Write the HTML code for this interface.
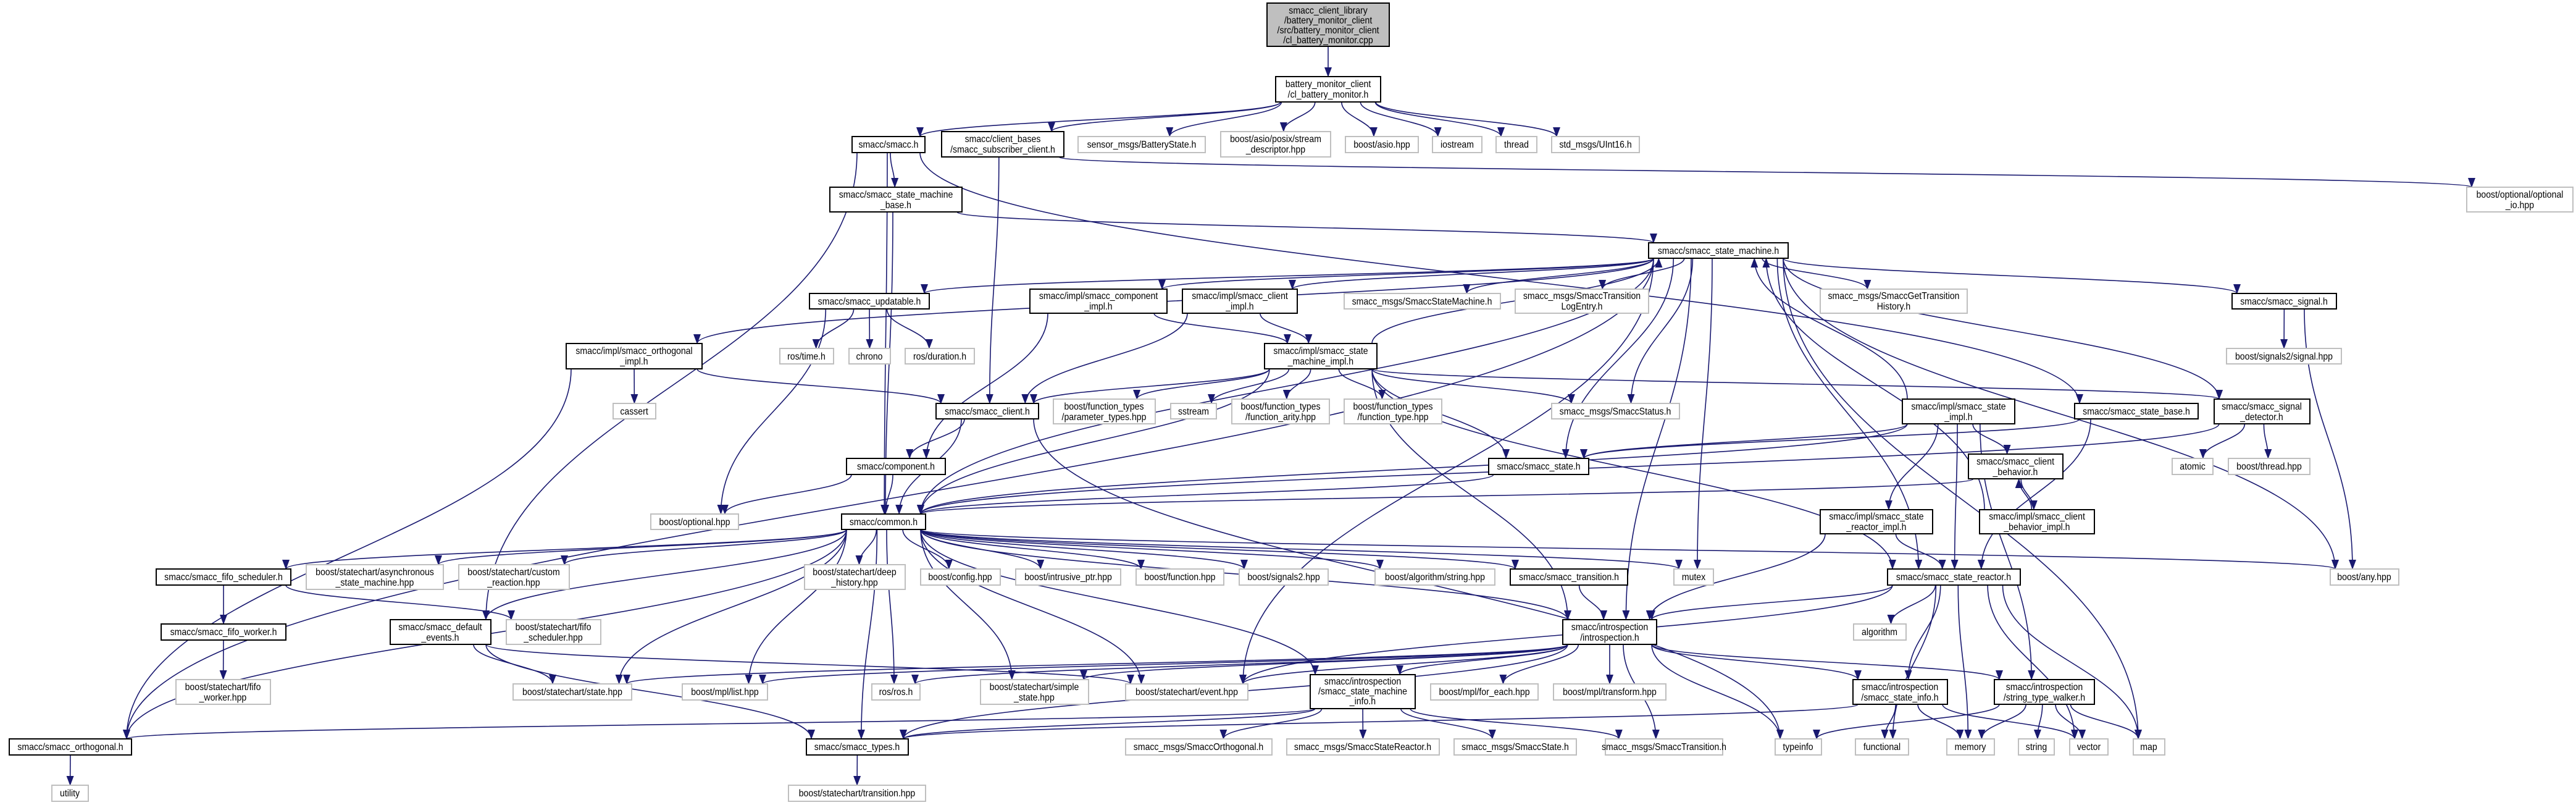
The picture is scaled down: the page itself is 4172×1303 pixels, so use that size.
<!DOCTYPE html>
<html><head><meta charset="utf-8">
<style>
html,body{margin:0;padding:0;background:#fff;}
svg{display:block;}
text{font-family:"Liberation Sans",sans-serif;font-size:16px;fill:#000;text-anchor:middle;transform-box:fill-box;transform-origin:center;transform:scaleX(0.88);}
rect.b{fill:#fff;stroke:#000;stroke-width:2;}
rect.g{fill:#fff;stroke:#bfbfbf;stroke-width:2;}
rect.t{fill:#bfbfbf;stroke:#000;stroke-width:2;}
#E path{fill:none;stroke:#191970;stroke-width:1.6;}
</style></head>
<body>
<svg id="S" width="4172" height="1303" viewBox="0 0 4172 1303" xmlns="http://www.w3.org/2000/svg">
<defs><marker id="ah" markerUnits="userSpaceOnUse" markerWidth="16" markerHeight="12" refX="15" refY="6" orient="auto"><path d="M0,0 L16,6 L0,12 z" fill="#191970"/></marker></defs>
<g id="E"></g>
<g id="N">
<rect class="t" x="2052" y="5" width="198" height="70"/><text x="2151" y="22">smacc_client_library</text><text x="2151" y="38">/battery_monitor_client</text><text x="2151" y="54">/src/battery_monitor_client</text><text x="2151" y="70">/cl_battery_monitor.cpp</text>
<rect class="b" x="2066" y="124" width="170" height="41"/><text x="2151" y="141">battery_monitor_client</text><text x="2151" y="158">/cl_battery_monitor.h</text>
<rect class="b" x="1380" y="221" width="118" height="26"/><text x="1439" y="239">smacc/smacc.h</text>
<rect class="b" x="1525" y="213" width="198" height="41"/><text x="1624" y="230">smacc/client_bases</text><text x="1624" y="247">/smacc_subscriber_client.h</text>
<rect class="g" x="1746" y="221" width="206" height="26"/><text x="1849" y="239">sensor_msgs/BatteryState.h</text>
<rect class="g" x="1977" y="213" width="178" height="41"/><text x="2066" y="230">boost/asio/posix/stream</text><text x="2066" y="247">_descriptor.hpp</text>
<rect class="g" x="2179" y="221" width="118" height="26"/><text x="2238" y="239">boost/asio.hpp</text>
<rect class="g" x="2320" y="221" width="80" height="26"/><text x="2360" y="239">iostream</text>
<rect class="g" x="2423" y="221" width="66" height="26"/><text x="2456" y="239">thread</text>
<rect class="g" x="2513" y="221" width="142" height="26"/><text x="2584" y="239">std_msgs/UInt16.h</text>
<rect class="g" x="3995" y="303" width="172" height="40"/><text x="4081" y="320">boost/optional/optional</text><text x="4081" y="337">_io.hpp</text>
<rect class="b" x="1344" y="303" width="214" height="40"/><text x="1451" y="320">smacc/smacc_state_machine</text><text x="1451" y="337">_base.h</text>
<rect class="b" x="2670" y="393" width="226" height="25"/><text x="2783" y="411">smacc/smacc_state_machine.h</text>
<rect class="b" x="1311" y="475" width="194" height="25"/><text x="1408" y="493">smacc/smacc_updatable.h</text>
<rect class="b" x="1668" y="468" width="222" height="39"/><text x="1779" y="484">smacc/impl/smacc_component</text><text x="1779" y="501">_impl.h</text>
<rect class="b" x="1915" y="468" width="186" height="39"/><text x="2008" y="484">smacc/impl/smacc_client</text><text x="2008" y="501">_impl.h</text>
<rect class="g" x="2177" y="475" width="253" height="25"/><text x="2303" y="493">smacc_msgs/SmaccStateMachine.h</text>
<rect class="g" x="2454" y="468" width="216" height="39"/><text x="2562" y="484">smacc_msgs/SmaccTransition</text><text x="2562" y="501">LogEntry.h</text>
<rect class="g" x="2948" y="468" width="238" height="39"/><text x="3067" y="484">smacc_msgs/SmaccGetTransition</text><text x="3067" y="501">History.h</text>
<rect class="b" x="3615" y="475" width="169" height="25"/><text x="3699" y="493">smacc/smacc_signal.h</text>
<rect class="g" x="3606" y="564" width="186" height="25"/><text x="3699" y="582">boost/signals2/signal.hpp</text>
<rect class="b" x="917" y="556" width="220" height="41"/><text x="1027" y="573">smacc/impl/smacc_orthogonal</text><text x="1027" y="590">_impl.h</text>
<rect class="g" x="1263" y="564" width="87" height="25"/><text x="1306" y="582">ros/time.h</text>
<rect class="g" x="1375" y="564" width="67" height="25"/><text x="1408" y="582">chrono</text>
<rect class="g" x="1466" y="564" width="112" height="25"/><text x="1522" y="582">ros/duration.h</text>
<rect class="b" x="2048" y="556" width="182" height="41"/><text x="2139" y="573">smacc/impl/smacc_state</text><text x="2139" y="590">_machine_impl.h</text>
<rect class="g" x="993" y="653" width="69" height="25"/><text x="1027" y="671">cassert</text>
<rect class="b" x="1516" y="653" width="166" height="25"/><text x="1599" y="671">smacc/smacc_client.h</text>
<rect class="g" x="1706" y="646" width="165" height="40"/><text x="1788" y="663">boost/function_types</text><text x="1788" y="680">/parameter_types.hpp</text>
<rect class="g" x="1896" y="653" width="74" height="25"/><text x="1933" y="671">sstream</text>
<rect class="g" x="1995" y="646" width="158" height="40"/><text x="2074" y="663">boost/function_types</text><text x="2074" y="680">/function_arity.hpp</text>
<rect class="g" x="2177" y="646" width="158" height="40"/><text x="2256" y="663">boost/function_types</text><text x="2256" y="680">/function_type.hpp</text>
<rect class="g" x="2513" y="653" width="207" height="25"/><text x="2616" y="671">smacc_msgs/SmaccStatus.h</text>
<rect class="b" x="3081" y="646" width="182" height="40"/><text x="3172" y="663">smacc/impl/smacc_state</text><text x="3172" y="680">_impl.h</text>
<rect class="b" x="3360" y="653" width="200" height="25"/><text x="3460" y="671">smacc/smacc_state_base.h</text>
<rect class="b" x="3586" y="646" width="155" height="40"/><text x="3663" y="663">smacc/smacc_signal</text><text x="3663" y="680">_detector.h</text>
<rect class="b" x="1371" y="742" width="160" height="26"/><text x="1451" y="760">smacc/component.h</text>
<rect class="g" x="1054" y="832" width="142" height="25"/><text x="1125" y="850">boost/optional.hpp</text>
<rect class="b" x="2411" y="742" width="162" height="26"/><text x="2492" y="760">smacc/smacc_state.h</text>
<rect class="g" x="3518" y="742" width="66" height="26"/><text x="3551" y="760">atomic</text>
<rect class="g" x="3609" y="742" width="132" height="26"/><text x="3675" y="760">boost/thread.hpp</text>
<rect class="b" x="3188" y="735" width="153" height="40"/><text x="3264" y="752">smacc/smacc_client</text><text x="3264" y="769">_behavior.h</text>
<rect class="b" x="2948" y="825" width="182" height="39"/><text x="3039" y="841">smacc/impl/smacc_state</text><text x="3039" y="858">_reactor_impl.h</text>
<rect class="b" x="3206" y="825" width="186" height="39"/><text x="3299" y="841">smacc/impl/smacc_client</text><text x="3299" y="858">_behavior_impl.h</text>
<rect class="b" x="1363" y="832" width="136" height="25"/><text x="1431" y="850">smacc/common.h</text>
<rect class="g" x="3774" y="921" width="111" height="26"/><text x="3829" y="939">boost/any.hpp</text>
<rect class="b" x="3057" y="921" width="215" height="26"/><text x="3164" y="939">smacc/smacc_state_reactor.h</text>
<rect class="b" x="253" y="921" width="218" height="26"/><text x="362" y="939">smacc/smacc_fifo_scheduler.h</text>
<rect class="g" x="496" y="914" width="222" height="40"/><text x="607" y="931">boost/statechart/asynchronous</text><text x="607" y="948">_state_machine.hpp</text>
<rect class="g" x="743" y="914" width="179" height="40"/><text x="832" y="931">boost/statechart/custom</text><text x="832" y="948">_reaction.hpp</text>
<rect class="g" x="1303" y="914" width="163" height="40"/><text x="1384" y="931">boost/statechart/deep</text><text x="1384" y="948">_history.hpp</text>
<rect class="g" x="1491" y="921" width="129" height="26"/><text x="1555" y="939">boost/config.hpp</text>
<rect class="g" x="1645" y="921" width="170" height="26"/><text x="1730" y="939">boost/intrusive_ptr.hpp</text>
<rect class="g" x="1840" y="921" width="142" height="26"/><text x="1911" y="939">boost/function.hpp</text>
<rect class="g" x="2007" y="921" width="144" height="26"/><text x="2079" y="939">boost/signals2.hpp</text>
<rect class="g" x="2227" y="921" width="194" height="26"/><text x="2324" y="939">boost/algorithm/string.hpp</text>
<rect class="b" x="2446" y="921" width="190" height="26"/><text x="2541" y="939">smacc/smacc_transition.h</text>
<rect class="g" x="2711" y="921" width="64" height="26"/><text x="2743" y="939">mutex</text>
<rect class="g" x="3002" y="1010" width="85" height="26"/><text x="3044" y="1028">algorithm</text>
<rect class="b" x="261" y="1010" width="202" height="26"/><text x="362" y="1028">smacc/smacc_fifo_worker.h</text>
<rect class="b" x="632" y="1003" width="163" height="40"/><text x="713" y="1020">smacc/smacc_default</text><text x="713" y="1037">_events.h</text>
<rect class="g" x="820" y="1003" width="153" height="40"/><text x="896" y="1020">boost/statechart/fifo</text><text x="896" y="1037">_scheduler.hpp</text>
<rect class="b" x="2531" y="1003" width="152" height="40"/><text x="2607" y="1020">smacc/introspection</text><text x="2607" y="1037">/introspection.h</text>
<rect class="g" x="285" y="1100" width="153" height="40"/><text x="361" y="1117">boost/statechart/fifo</text><text x="361" y="1134">_worker.hpp</text>
<rect class="g" x="831" y="1107" width="192" height="26"/><text x="927" y="1125">boost/statechart/state.hpp</text>
<rect class="g" x="1105" y="1107" width="138" height="26"/><text x="1174" y="1125">boost/mpl/list.hpp</text>
<rect class="g" x="1412" y="1107" width="78" height="26"/><text x="1451" y="1125">ros/ros.h</text>
<rect class="g" x="1588" y="1100" width="175" height="40"/><text x="1675" y="1117">boost/statechart/simple</text><text x="1675" y="1134">_state.hpp</text>
<rect class="g" x="1823" y="1107" width="198" height="26"/><text x="1922" y="1125">boost/statechart/event.hpp</text>
<rect class="b" x="2122" y="1092" width="170" height="55"/><text x="2207" y="1108">smacc/introspection</text><text x="2207" y="1124">/smacc_state_machine</text><text x="2207" y="1140">_info.h</text>
<rect class="g" x="2317" y="1107" width="174" height="26"/><text x="2404" y="1125">boost/mpl/for_each.hpp</text>
<rect class="g" x="2516" y="1107" width="182" height="26"/><text x="2607" y="1125">boost/mpl/transform.hpp</text>
<rect class="b" x="3001" y="1100" width="153" height="40"/><text x="3077" y="1117">smacc/introspection</text><text x="3077" y="1134">/smacc_state_info.h</text>
<rect class="b" x="3230" y="1100" width="162" height="40"/><text x="3311" y="1117">smacc/introspection</text><text x="3311" y="1134">/string_type_walker.h</text>
<rect class="b" x="15" y="1196" width="198" height="26"/><text x="114" y="1214">smacc/smacc_orthogonal.h</text>
<rect class="b" x="1306" y="1196" width="165" height="26"/><text x="1388" y="1214">smacc/smacc_types.h</text>
<rect class="g" x="1823" y="1196" width="237" height="26"/><text x="1941" y="1214">smacc_msgs/SmaccOrthogonal.h</text>
<rect class="g" x="2084" y="1196" width="247" height="26"/><text x="2207" y="1214">smacc_msgs/SmaccStateReactor.h</text>
<rect class="g" x="2355" y="1196" width="198" height="26"/><text x="2454" y="1214">smacc_msgs/SmaccState.h</text>
<rect class="g" x="2600" y="1196" width="190" height="26"/><text x="2695" y="1214">smacc_msgs/SmaccTransition.h</text>
<rect class="g" x="2875" y="1196" width="75" height="26"/><text x="2912" y="1214">typeinfo</text>
<rect class="g" x="3005" y="1196" width="86" height="26"/><text x="3048" y="1214">functional</text>
<rect class="g" x="3153" y="1196" width="77" height="26"/><text x="3191" y="1214">memory</text>
<rect class="g" x="3269" y="1196" width="58" height="26"/><text x="3298" y="1214">string</text>
<rect class="g" x="3352" y="1196" width="62" height="26"/><text x="3383" y="1214">vector</text>
<rect class="g" x="3455" y="1196" width="51" height="26"/><text x="3480" y="1214">map</text>
<rect class="g" x="84" y="1271" width="59" height="26"/><text x="113" y="1289">utility</text>
<rect class="g" x="1277" y="1271" width="222" height="26"/><text x="1388" y="1289">boost/statechart/transition.hpp</text>
</g>
</svg>
<script>
var N={1:[2052,5,2250,75],2:[2066,124,2236,165],3:[1380,221,1498,247],4:[1525,213,1723,254],5:[1746,221,1952,247],6:[1977,213,2155,254],7:[2179,221,2297,247],8:[2320,221,2400,247],9:[2423,221,2489,247],10:[2513,221,2655,247],11:[3995,303,4167,343],12:[1344,303,1558,343],13:[2670,393,2896,418],14:[1311,475,1505,500],15:[1668,468,1890,507],16:[1915,468,2101,507],17:[2177,475,2430,500],18:[2454,468,2670,507],19:[2948,468,3186,507],20:[3615,475,3784,500],21:[3606,564,3792,589],22:[917,556,1137,597],23:[1263,564,1350,589],24:[1375,564,1442,589],25:[1466,564,1578,589],26:[2048,556,2230,597],27:[993,653,1062,678],28:[1516,653,1682,678],29:[1706,646,1871,686],30:[1896,653,1970,678],31:[1995,646,2153,686],32:[2177,646,2335,686],33:[2513,653,2720,678],34:[3081,646,3263,686],35:[3360,653,3560,678],36:[3586,646,3741,686],37:[1371,742,1531,768],38:[1054,832,1196,857],39:[2411,742,2573,768],40:[3518,742,3584,768],41:[3609,742,3741,768],42:[3188,735,3341,775],43:[2948,825,3130,864],44:[3206,825,3392,864],45:[1363,832,1499,857],46:[3774,921,3885,947],47:[3057,921,3272,947],48:[253,921,471,947],49:[496,914,718,954],50:[743,914,922,954],51:[1303,914,1466,954],52:[1491,921,1620,947],53:[1645,921,1815,947],54:[1840,921,1982,947],55:[2007,921,2151,947],56:[2227,921,2421,947],57:[2446,921,2636,947],58:[2711,921,2775,947],59:[3002,1010,3087,1036],60:[261,1010,463,1036],61:[632,1003,795,1043],62:[820,1003,973,1043],63:[2531,1003,2683,1043],64:[285,1100,438,1140],65:[831,1107,1023,1133],66:[1105,1107,1243,1133],67:[1412,1107,1490,1133],68:[1588,1100,1763,1140],69:[1823,1107,2021,1133],70:[2122,1092,2292,1147],71:[2317,1107,2491,1133],72:[2516,1107,2698,1133],73:[3001,1100,3154,1140],74:[3230,1100,3392,1140],75:[15,1196,213,1222],76:[1306,1196,1471,1222],77:[1823,1196,2060,1222],78:[2084,1196,2331,1222],79:[2355,1196,2553,1222],80:[2600,1196,2790,1222],81:[2875,1196,2950,1222],82:[3005,1196,3091,1222],83:[3153,1196,3230,1222],84:[3269,1196,3327,1222],85:[3352,1196,3414,1222],86:[3455,1196,3506,1222],87:[84,1271,143,1297],88:[1277,1271,1499,1297]};
var E=[[1,2],[2,3],[2,4],[2,5],[2,6],[2,7],[2,8],[2,9],[2,10],
[3,12],[3,45],[3,61],[3,35],[4,28],[4,11],[12,13],[12,45],
[13,14],[13,15],[13,16],[13,17],[13,18],[13,19],[13,20],[13,22],[13,33],[13,39],[13,45],[13,46],[13,58],[13,63],[13,86],[13,47],[13,36],[13,69],[13,75],
[26,13],[34,13],[44,13],
[14,23],[14,24],[14,25],[14,38],[15,26],[15,37],[16,26],[16,28],
[22,27],[22,28],[22,75],
[26,28],[26,29],[26,30],[26,31],[26,32],[26,33],[26,39],[26,36],[26,47],[26,63],[26,45],
[20,21],[20,46],[28,37],[28,45],[28,81],
[34,39],[34,42],[34,43],[34,47],[34,45],[34,74],[35,39],[35,47],
[36,40],[36,41],[36,45],[42,44],[44,42],[42,45],[43,47],[43,63],
[37,38],[37,45],[39,45],
[45,48],[45,49],[45,50],[45,51],[45,52],[45,53],[45,54],[45,55],[45,56],[45,57],[45,58],[45,46],[45,63],[45,61],[45,75],[45,76],[45,65],[45,66],[45,67],[45,68],[45,69],[45,70],
[47,59],[47,63],[47,82],[47,83],[47,85],[47,86],[47,69],[47,73],
[48,60],[48,62],[60,64],[61,65],[61,69],[61,76],[57,63],
[63,65],[63,66],[63,67],[63,68],[63,69],[63,70],[63,71],[63,72],[63,73],[63,74],[63,80],[63,81],[63,76],
[70,77],[70,78],[70,79],[70,80],[70,76],[70,75],
[73,82],[73,83],[73,85],[73,76],[74,81],[74,83],[74,84],[74,85],[74,86],[75,87],[76,88]];
function cl(v,a,b){return Math.max(a,Math.min(b,v));}
var g=document.getElementById('E'),h='';
E.forEach(function(e){var a=N[e[0]],b=N[e[1]];
var ac=[(a[0]+a[2])/2,(a[1]+a[3])/2],bc=[(b[0]+b[2])/2,(b[1]+b[3])/2],d;
if(Math.abs(ac[1]-bc[1])<30){
 var px=bc[0]>ac[0]?a[2]:a[0],qx=bc[0]>ac[0]?b[0]:b[2];
 d='M'+px+','+ac[1]+' L'+qx+','+bc[1];
}else{
 var down=bc[1]>ac[1];
 var sx=cl(ac[0]+(bc[0]-ac[0])*0.25,a[0]+8,a[2]-8),sy=down?a[3]:a[1];
 var tx=cl(bc[0]+(ac[0]-bc[0])*0.15,b[0]+8,b[2]-8),ty=down?b[1]:b[3];
 var m=(ty-sy)*0.45;
 d='M'+sx.toFixed(1)+','+sy+' C'+sx.toFixed(1)+','+(sy+m).toFixed(1)+' '+tx.toFixed(1)+','+(ty-m).toFixed(1)+' '+tx.toFixed(1)+','+ty;
}
h+='<path marker-end="url(#ah)" d="'+d+'"/>';});
g.innerHTML=h;
</script>
</body></html>
